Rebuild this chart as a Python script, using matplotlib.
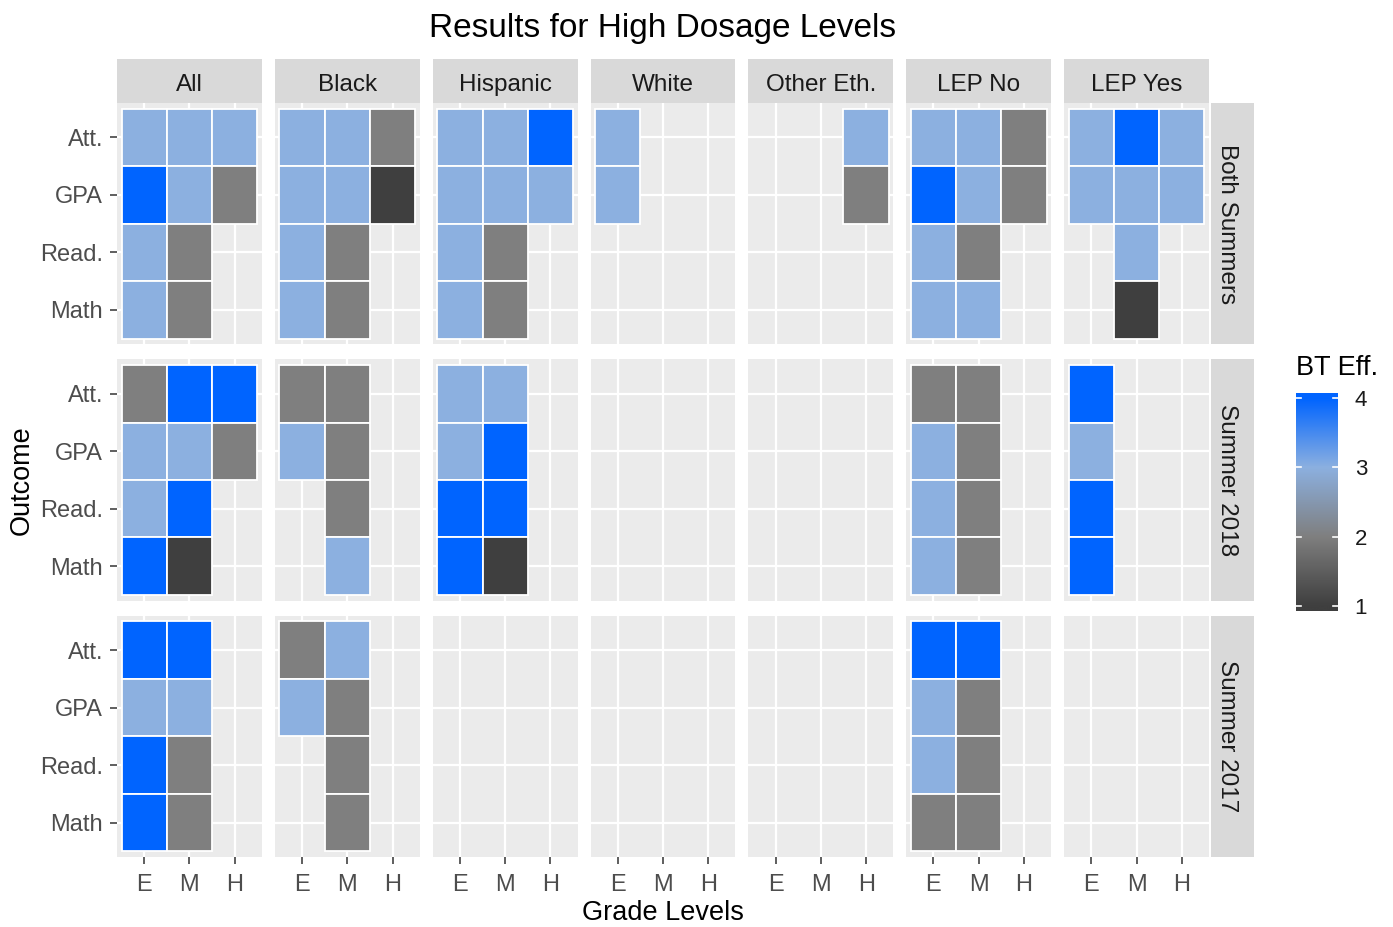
import numpy as np
import matplotlib
matplotlib.use("Agg")
import matplotlib.pyplot as plt
from matplotlib.colors import LinearSegmentedColormap, Normalize

plt.rcParams['font.family'] = ['Liberation Sans', 'DejaVu Sans']

# ---------------- data ----------------
outcomes = ["Att.", "GPA", "Read.", "Math"]          # top to bottom
grades = ["E", "M", "H"]
groups = ["All", "Black", "Hispanic", "White", "Other Eth.", "LEP No", "LEP Yes"]
periods = ["Both Summers", "Summer 2018", "Summer 2017"]
N = None

# each grid: rows = outcomes (Att., GPA, Read., Math), cols = grades (E, M, H)
both_summers = [
    [[3, 3, 3], [4, 3, 2], [3, 2, N], [3, 2, N]],   # All
    [[3, 3, 2], [3, 3, 1], [3, 2, N], [3, 2, N]],   # Black
    [[3, 3, 4], [3, 3, 3], [3, 2, N], [3, 2, N]],   # Hispanic
    [[3, N, N], [3, N, N], [N, N, N], [N, N, N]],   # White
    [[N, N, 3], [N, N, 2], [N, N, N], [N, N, N]],   # Other Eth.
    [[3, 3, 2], [4, 3, 2], [3, 2, N], [3, 3, N]],   # LEP No
    [[3, 4, 3], [3, 3, 3], [N, 3, N], [N, 1, N]],   # LEP Yes
]
summer_2018 = [
    [[2, 4, 4], [3, 3, 2], [3, 4, N], [4, 1, N]],   # All
    [[2, 2, N], [3, 2, N], [N, 2, N], [N, 3, N]],   # Black
    [[3, 3, N], [3, 4, N], [4, 4, N], [4, 1, N]],   # Hispanic
    [[N, N, N], [N, N, N], [N, N, N], [N, N, N]],   # White
    [[N, N, N], [N, N, N], [N, N, N], [N, N, N]],   # Other Eth.
    [[2, 2, N], [3, 2, N], [3, 2, N], [3, 2, N]],   # LEP No
    [[4, N, N], [3, N, N], [4, N, N], [4, N, N]],   # LEP Yes
]
summer_2017 = [
    [[4, 4, N], [3, 3, N], [4, 2, N], [4, 2, N]],   # All
    [[2, 3, N], [3, 2, N], [N, 2, N], [N, 2, N]],   # Black
    [[N, N, N], [N, N, N], [N, N, N], [N, N, N]],   # Hispanic
    [[N, N, N], [N, N, N], [N, N, N], [N, N, N]],   # White
    [[N, N, N], [N, N, N], [N, N, N], [N, N, N]],   # Other Eth.
    [[4, 4, N], [3, 2, N], [3, 2, N], [2, 2, N]],   # LEP No
    [[N, N, N], [N, N, N], [N, N, N], [N, N, N]],   # LEP Yes
]
period_data = [both_summers, summer_2018, summer_2017]

legend_ticks = [1, 2, 3, 4]
anchor_colors = ["#3f3f3f", "#7f7f7f", "#8cb0e0", "#0064ff"]

# ---------------- styling ----------------
W, H = 1393, 927
fig = plt.figure(figsize=(W / 100, H / 100), dpi=100)
fig.patch.set_facecolor("white")

cmap = LinearSegmentedColormap.from_list("bt", anchor_colors)
norm = Normalize(vmin=1, vmax=4)

panel_bg = "#ebebeb"
strip_bg = "#d9d9d9"
tick_col = "#4d4d4d"

x_left, x_right = 117, 1209
y_top, y_bot = 103, 857
gap_x, gap_y = 13, 15
ncol, nrow = len(groups), len(periods)
pw = (x_right - x_left - gap_x * (ncol - 1)) / ncol
ph = (y_bot - y_top - gap_y * (nrow - 1)) / nrow
strip_h = 44
strip_w = 43

def px_axes(x0, y0, w, h):
    return fig.add_axes([x0 / W, 1 - (y0 + h) / H, w / W, h / H])

nout = len(outcomes)
ypos = {o: nout - i for i, o in enumerate(outcomes)}  # Att. at top
xpos = {g: i + 1 for i, g in enumerate(grades)}

for r, (period, data) in enumerate(zip(periods, period_data)):
    py0 = y_top + r * (ph + gap_y)
    for c, group in enumerate(groups):
        px0 = x_left + c * (pw + gap_x)
        ax = px_axes(px0, py0, pw, ph)
        ax.set_facecolor(panel_bg)
        ax.set_xlim(0.4, len(grades) + 0.6)
        ax.set_ylim(0.4, nout + 0.6)
        ax.set_xticks([xpos[g] for g in grades])
        ax.set_yticks([ypos[o] for o in outcomes])
        ax.grid(True, color="white", lw=1.6, zorder=0)
        ax.set_axisbelow(True)
        for s in ax.spines.values():
            s.set_visible(False)
        grid = data[c]
        for i, o in enumerate(outcomes):
            for j, g in enumerate(grades):
                v = grid[i][j]
                if v is None:
                    continue
                ax.bar(xpos[g], 1.0, bottom=ypos[o] - 0.5, width=1.0,
                       color=cmap(norm(v)), edgecolor="white", linewidth=1.3,
                       zorder=2)
        ax.tick_params(length=5, width=1.1, color="#333333",
                       labelcolor=tick_col, labelsize=17)
        ax.tick_params(axis="x", pad=7)
        ax.tick_params(axis="y", pad=5)
        if c == 0:
            ax.set_yticklabels(outcomes)
        else:
            ax.set_yticklabels([])
            ax.tick_params(axis="y", length=0)
        if r == nrow - 1:
            ax.set_xticklabels(grades)
        else:
            ax.set_xticklabels([])
            ax.tick_params(axis="x", length=0)
        # top strips
        if r == 0:
            sax = px_axes(px0, py0 - strip_h, pw, strip_h)
            sax.set_facecolor(strip_bg)
            sax.set_xticks([]); sax.set_yticks([])
            for s in sax.spines.values():
                s.set_visible(False)
            sax.text(0.5, 0.4, group, ha="center", va="center",
                     fontsize=17.5, color="#1a1a1a", transform=sax.transAxes)
    # right strip
    rax = px_axes(x_right + 2, py0, strip_w, ph)
    rax.set_facecolor(strip_bg)
    rax.set_xticks([]); rax.set_yticks([])
    for s in rax.spines.values():
        s.set_visible(False)
    rax.text(0.38, 0.5, period, ha="center", va="center", rotation=-90,
             fontsize=17.5, color="#1a1a1a", transform=rax.transAxes)

# titles
fig.text(663 / W, 1 - 29 / H, "Results for High Dosage Levels", ha="center",
         va="center", fontsize=24, color="black")
fig.text(663 / W, 1 - 913 / H, "Grade Levels", ha="center", va="center",
         fontsize=19.5, color="black")
fig.text(22 / W, 1 - 480 / H, "Outcome", ha="center", va="center",
         rotation=90, fontsize=19.5, color="black")

# legend colorbar
lax = px_axes(1296, 393, 42, 218)
grad = np.linspace(0.93, 4.07, 400).reshape(-1, 1)
lax.imshow(grad, cmap=cmap, norm=norm, aspect="auto", origin="lower",
           extent=[0, 1, 0.93, 4.07])
lax.set_xlim(0, 1)
lax.set_ylim(0.93, 4.07)
for s in lax.spines.values():
    s.set_visible(False)
lax.set_xticks([])
lax.set_yticks(legend_ticks)
lax.yaxis.tick_right()
lax.tick_params(axis="y", length=0, labelsize=16, labelcolor="#1a1a1a", pad=12)
for t in legend_ticks:
    lax.plot([0, 0.12], [t, t], color="white", lw=1.2)
    lax.plot([0.88, 1], [t, t], color="white", lw=1.2)
fig.text(1296 / W, 1 - 368 / H, "BT Eff.", ha="left", va="center",
         fontsize=19.5, color="black")

fig.savefig("out.png", dpi=100)
